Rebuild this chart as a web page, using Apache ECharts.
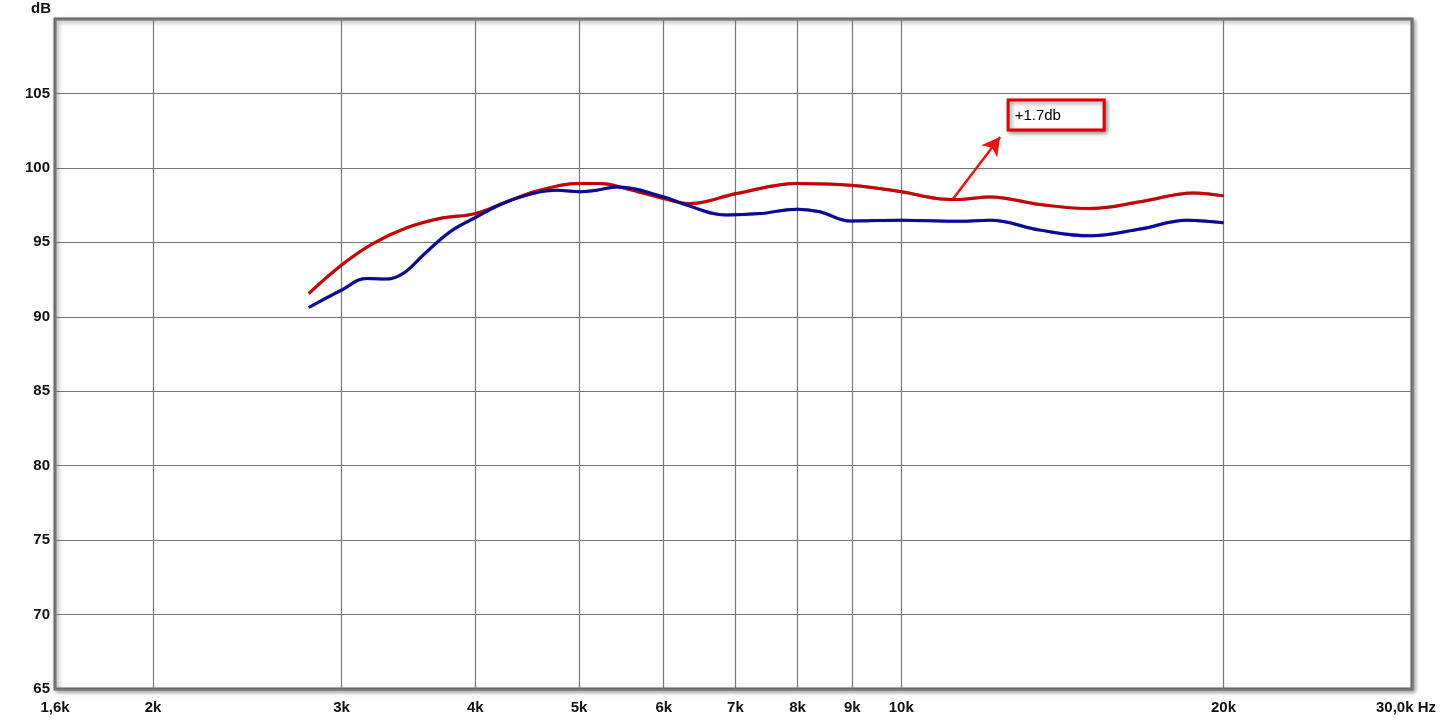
<!DOCTYPE html>
<html>
<head>
<meta charset="utf-8">
<script src="https://cdn.jsdelivr.net/npm/echarts@6/dist/echarts.min.js"></script>
<style>html,body{margin:0;padding:0;background:#fff}#c{width:1440px;height:721px}</style>
</head>
<body>
<div id="c"></div>
<script>
// Frequency tick values (Hz) and their labels
const xTicks = [1620, 2000, 3000, 4000, 5000, 6000, 7000, 8000, 9000, 10000, 20000, 30000];
const xTickLabels = ['1,6k', '2k', '3k', '4k', '5k', '6k', '7k', '8k', '9k', '10k', '20k', '30,0k Hz'];

// Red curve
const redFreq = [2796, 3000, 3211, 3450, 3707, 4000, 4279, 4597, 5010, 5230, 5540, 6000, 6348, 7019, 8000, 8957, 10000, 10794, 11269, 12105, 13481, 15012, 16719, 18751, 20000];
const redDb   = [91.56, 93.47, 94.92, 95.97, 96.6, 96.93, 97.72, 98.5, 98.95, 98.95, 98.6, 97.94, 97.6, 98.28, 98.95, 98.84, 98.4, 97.95, 97.88, 98.05, 97.54, 97.27, 97.72, 98.32, 98.12];

// Blue curve
const blueFreq = [2796, 3000, 3166, 3305, 3425, 3576, 3787, 4000, 4279, 4597, 4765, 5010, 5193, 5422, 6000, 6303, 6870, 7380, 8000, 8397, 8957, 10000, 11350, 12105, 13481, 15012, 16719, 18486, 20000];
const blueDb   = [90.62, 91.79, 92.57, 92.53, 92.9, 94.14, 95.7, 96.66, 97.72, 98.39, 98.5, 98.39, 98.5, 98.72, 98.05, 97.5, 96.83, 96.93, 97.23, 97.05, 96.44, 96.49, 96.42, 96.49, 95.82, 95.44, 95.89, 96.49, 96.31];

// Annotation
const noteText = '+1.7db';
const noteBoxFrom = [12585, 104.56];
const noteBoxTo = [15472, 102.55];
const arrowFrom = [11180, 97.92];
const arrowTo = [12370, 102.08];

const zip = (a, b) => a.map((v, i) => [v, b[i]]);

const chart = echarts.init(document.getElementById('c'), null, {renderer: 'canvas'});
const labelFont = {fontFamily: 'Liberation Sans, Arial, sans-serif', fontWeight: 'bold', fontSize: 15, color: '#111'};

chart.setOption({
  backgroundColor: '#fff',
  animation: false,
  grid: {
    left: 55, right: 28, top: 19, bottom: 32,
    outerBoundsMode: 'none', containLabel: false,
    show: true, backgroundColor: '#fff',
    borderColor: '#6a6a6a', borderWidth: 3,
    shadowColor: 'rgba(0,0,0,0.35)', shadowBlur: 4, shadowOffsetX: 2, shadowOffsetY: 2
  },
  xAxis: {
    type: 'log', logBase: 10, min: 1620, max: 30000,
    axisLine: {show: false},
    axisTick: {show: false, customValues: xTicks},
    splitLine: {show: true, lineStyle: {color: '#777', width: 1.2}},
    axisLabel: {
      customValues: xTicks, margin: 11,
      formatter: v => {
        let i = xTicks.findIndex(t => Math.abs(t - v) < 1);
        if (i < 0) return '';
        return i === xTicks.length - 1 ? '{last|' + xTickLabels[i] + '}' : xTickLabels[i];
      },
      rich: {last: {...labelFont, padding: [0, 12, 0, 0]}},
      ...labelFont
    }
  },
  yAxis: {
    type: 'value', min: 65, max: 110, interval: 5,
    name: 'dB', nameLocation: 'end', nameGap: 3,
    nameTextStyle: {...labelFont, align: 'right', padding: [0, 4, 0, 0]},
    axisLine: {show: false}, axisTick: {show: false},
    splitLine: {show: true, lineStyle: {color: '#777', width: 1.2}},
    axisLabel: {formatter: v => v === 110 ? '' : String(v), margin: 5, ...labelFont}
  },
  series: [
    {
      type: 'line', data: zip(redFreq, redDb), smooth: 0.4, symbol: 'none',
      lineStyle: {color: '#c80000', width: 3, shadowColor: 'rgba(0,0,0,0.5)', shadowBlur: 1},
      markLine: {
        silent: true, symbol: ['none', 'arrow'], symbolSize: [15, 18],
        lineStyle: {color: '#e31515', width: 2.5, type: 'solid'},
        label: {show: false},
        data: [[{coord: arrowFrom}, {coord: arrowTo}]]
      },
      markArea: {
        silent: true,
        itemStyle: {color: '#fff', borderColor: '#e00000', borderWidth: 3, shadowColor: 'rgba(0,0,0,0.4)', shadowBlur: 4, shadowOffsetX: 2, shadowOffsetY: 2},
        label: {show: true, position: 'insideLeft', distance: 8, offset: [0, 1], color: '#000', fontFamily: 'Liberation Sans, Arial, sans-serif', fontSize: 15},
        data: [[{coord: noteBoxFrom, name: noteText}, {coord: noteBoxTo}]]
      }
    },
    {
      type: 'line', data: zip(blueFreq, blueDb), smooth: 0.4, symbol: 'none',
      lineStyle: {color: '#0a0a96', width: 3, shadowColor: 'rgba(0,0,0,0.5)', shadowBlur: 1}
    }
  ]
});
</script>
</body>
</html>
